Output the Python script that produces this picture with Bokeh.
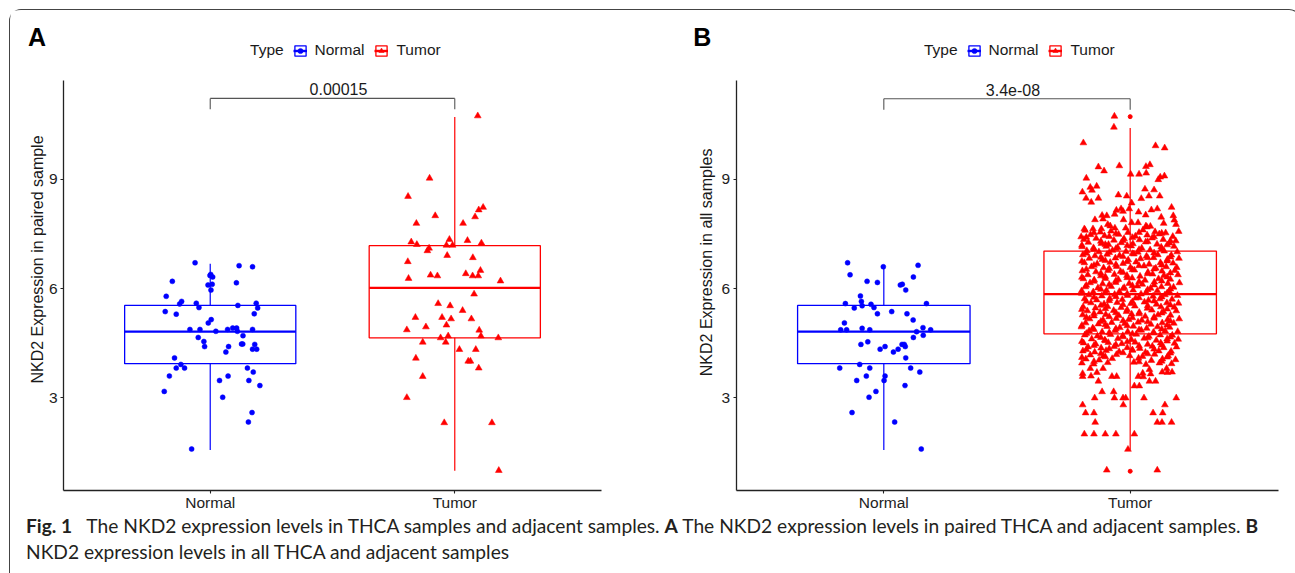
import math
from bokeh.plotting import figure
from bokeh.models import Range1d, FixedTicker, Label, Legend, LegendItem, Div, LinearAxis, Grid
from bokeh.layouts import row, column
from bokeh.embed import file_html
from bokeh.resources import INLINE

# ---------------- data ----------------
categories = ["Normal", "Tumor"]
p_values = ["0.00015", "3.4e-08"]
y_titles = ["NKD2 Expression in paired sample", "NKD2 Expression in all samples"]
panel_letters = ["A", "B"]
y_ticks = [3, 6, 9]

# box statistics per category: lower whisker, Q1, median, Q3, upper whisker
a_low = [1.57, 1.00]
a_q1 = [3.94, 4.65]
a_median = [4.82, 6.02]
a_q3 = [5.54, 7.18]
a_high = [6.68, 10.71]
a_outliers = [[], []]

b_low = [1.57, 1.58]
b_q1 = [3.94, 4.76]
b_median = [4.82, 5.85]
b_q3 = [5.54, 7.03]
b_high = [6.60, 10.41]
b_outliers = [[], [10.72, 0.99]]

# jittered samples: (jitter, expression)
a_normal = [(-0.062,6.71),(0.118,6.63),(0.173,6.60),(0.002,6.39),(0.010,6.32),(-0.001,6.36),(-0.155,6.20),
            (0.107,6.16),(-0.009,6.10),(0.008,6.12),(0.003,5.96),(-0.180,5.79),(-0.117,5.65),(-0.125,5.58),
            (-0.057,5.60),(-0.046,5.48),(0.113,5.54),(0.188,5.60),(0.194,5.47),(-0.184,5.37),(-0.139,5.30),
            (0.180,5.31),(0.004,5.15),(-0.008,5.06),(-0.083,4.88),(-0.042,4.88),(0.023,4.83),(0.071,4.88),
            (0.092,4.92),(0.108,4.92),(0.111,4.83),(0.173,4.88),(0.134,4.71),(-0.049,4.66),(-0.026,4.55),
            (-0.023,4.41),(0.075,4.41),(0.064,4.26),(0.128,4.48),(0.133,4.48),(0.182,4.47),(0.173,4.34),
            (0.190,4.34),(-0.146,4.10),(-0.120,3.92),(-0.139,3.82),(-0.105,3.82),(0.152,3.82),(0.176,3.71),
            (-0.167,3.60),(0.073,3.60),(0.038,3.48),(0.158,3.48),(0.203,3.34),(-0.188,3.18),(0.051,3.02),
            (0.171,2.60),(0.156,2.34),(-0.076,1.60)]

a_tumor = [(0.094,10.74),(-0.103,9.03),(-0.191,8.53),(0.116,8.23),(0.098,8.16),(-0.080,8.00),(0.083,7.97),
           (-0.157,7.79),(0.034,7.79),(-0.178,7.28),(-0.155,7.21),(-0.022,7.35),(-0.034,7.19),(-0.009,7.19),
           (0.052,7.32),(0.109,7.25),(-0.105,7.11),(-0.112,7.04),(-0.031,6.91),(-0.192,6.74),(0.074,6.85),
           (-0.189,6.28),(-0.099,6.37),(-0.071,6.35),(0.045,6.41),(0.073,6.35),(0.096,6.35),(0.105,6.50),
           (0.187,6.21),(0.079,5.85),(-0.068,5.59),(-0.019,5.53),(0.032,5.40),(-0.161,5.21),(-0.052,5.21),
           (-0.015,5.17),(0.068,5.17),(-0.118,4.95),(-0.196,4.87),(-0.034,5.00),(0.100,4.86),(-0.058,4.65),
           (-0.027,4.70),(0.107,4.70),(0.178,4.65),(-0.131,4.53),(-0.037,4.53),(0.019,4.33),(0.086,4.33),
           (-0.159,4.09),(0.055,4.01),(0.064,4.01),(0.098,3.82),(-0.131,3.59),(-0.196,3.01),(-0.043,2.32),
           (0.152,2.32),(0.180,1.01)]

b_normal = [(-0.147,6.71),(-0.002,6.60),(0.139,6.64),(-0.137,6.38),(0.120,6.32),(-0.068,6.20),(-0.026,6.17),
            (0.067,6.10),(0.075,6.12),(0.089,5.96),(-0.095,5.80),(-0.091,5.65),(-0.156,5.59),(-0.088,5.53),
            (-0.052,5.57),(-0.040,5.48),(0.173,5.59),(-0.120,5.47),(-0.026,5.31),(0.032,5.37),(0.094,5.31),
            (0.119,5.14),(-0.160,5.06),(-0.175,4.87),(-0.151,4.87),(-0.088,4.91),(-0.057,4.87),(0.133,4.82),
            (0.159,4.93),(0.160,4.72),(0.190,4.87),(0.120,4.66),(-0.093,4.47),(-0.065,4.54),(-0.015,4.34),
            (0.005,4.41),(0.039,4.26),(0.058,4.34),(0.074,4.47),(0.083,4.47),(0.087,4.41),(0.089,4.10),
            (-0.179,3.82),(-0.098,3.92),(-0.057,3.82),(0.109,3.82),(0.146,3.71),(-0.071,3.60),(0.005,3.60),
            (-0.110,3.48),(0.001,3.48),(0.086,3.34),(-0.032,3.18),(-0.060,3.02),(-0.129,2.60),(0.044,2.34),
            (0.152,1.60)]

b_tumor_high = [(-0.064,10.73),(-0.066,10.43),(-0.190,10.00),(0.103,9.92),(0.140,9.86),(-0.129,9.34),(-0.106,9.23),
                (-0.044,9.37),(0.064,9.35),(0.080,9.40),(0.002,9.14),(0.036,9.14),(0.065,9.17),(0.114,8.99),
                (0.122,9.06),(0.139,9.09),(-0.178,9.03),(-0.162,8.78),(-0.136,8.81),(-0.194,8.65),(-0.155,8.70),
                (0.060,8.73),(0.097,8.71),(-0.179,8.48),(-0.129,8.48),(-0.048,8.57),(-0.014,8.54),(0.045,8.47),
                (0.076,8.54),(0.120,8.54),(-0.158,8.37),(0.006,8.35),(0.168,8.23),(-0.056,8.15),(-0.037,8.19),
                (-0.029,8.12),(-0.004,8.19),(0.034,8.10),(0.086,8.16),(0.110,8.19),(-0.114,8.01),(-0.095,8.00),
                (-0.063,8.04),(0.063,8.02),(0.126,7.96),(0.175,8.00),(-0.143,7.89),(-0.110,7.91),(-0.027,7.89),
                (0.006,7.81),(-0.091,7.76),(-0.081,7.72),(0.032,7.81),(0.064,7.72),(0.136,7.79),(0.179,7.88),
                (0.186,7.76),(-0.186,7.64),(-0.151,7.64),(-0.117,7.64),(-0.062,7.66),(-0.018,7.66),(0.068,7.69),
                (0.082,7.71)]

b_tumor_mid = [(-0.183,7.60),(-0.121,7.55),(-0.078,7.58),(-0.009,7.54),(0.052,7.61),(0.101,7.56),(0.144,7.53),(0.197,7.57),
               (-0.161,7.48),(-0.104,7.45),(-0.047,7.49),(0.021,7.44),(0.069,7.47),(0.118,7.50),(0.173,7.43),(-0.199,7.42),
               (-0.188,7.35),(-0.138,7.38),(-0.066,7.33),(-0.025,7.37),(0.038,7.34),(0.089,7.39),(0.134,7.35),(0.185,7.31),
               (-0.170,7.27),(-0.117,7.24),(-0.088,7.21),(-0.036,7.26),(0.011,7.23),(0.063,7.28),(0.109,7.22),(0.160,7.25),
               (-0.195,7.15),(-0.149,7.12),(-0.097,7.16),(-0.051,7.13),(0.004,7.17),(0.047,7.11),(0.126,7.14),(0.178,7.16),
               (-0.176,7.04),(-0.127,7.01),(-0.072,7.05),(-0.017,7.02),(0.031,7.00),(0.081,7.06),(0.138,7.03),(0.191,7.01),
               (-0.192,6.93),(-0.143,6.90),(-0.094,6.94),(-0.043,6.91),(0.015,6.95),(0.066,6.89),(0.112,6.93),(0.167,6.92),
               (-0.166,6.83),(-0.113,6.80),(-0.060,6.84),(-0.008,6.79),(0.042,6.82),(0.095,6.85),(0.151,6.80),(0.198,6.83),
               (-0.186,6.71),(-0.134,6.68),(-0.081,6.72),(-0.029,6.69),(0.024,6.73),(0.077,6.67),(0.123,6.71),(0.174,6.70),
               (-0.157,6.60),(-0.108,6.57),(-0.055,6.61),(0.001,6.58),(0.056,6.62),(0.104,6.56),(0.146,6.60),(0.189,6.58),
               (-0.194,6.49),(-0.139,6.46),(-0.090,6.50),(-0.039,6.47),(0.017,6.51),(0.072,6.45),(0.129,6.48),(0.181,6.50),
               (-0.172,6.38),(-0.119,6.35),(-0.064,6.39),(-0.013,6.36),(0.040,6.34),(0.091,6.40),(0.137,6.36),(0.194,6.38),
               (-0.190,6.27),(-0.146,6.24),(-0.101,6.28),(-0.048,6.25),(0.008,6.29),(0.060,6.23),(0.115,6.27),(0.163,6.26),
               (-0.163,6.16),(-0.112,6.13),(-0.059,6.17),(-0.004,6.14),(0.049,6.12),(0.098,6.18),(0.153,6.14),(0.200,6.16),
               (-0.182,6.05),(-0.131,6.02),(-0.077,6.06),(-0.024,6.03),(0.029,6.07),(0.083,6.01),(0.127,6.05),(0.176,6.04),
               (-0.197,5.94),(-0.150,5.91),(-0.096,5.95),(-0.044,5.92),(0.012,5.96),(0.065,5.90),(0.110,5.94),(0.158,5.93),
               (-0.168,5.83),(-0.115,5.80),(-0.063,5.84),(-0.011,5.81),(0.044,5.85),(0.093,5.79),(0.141,5.83),(0.192,5.81),
               (-0.185,5.72),(-0.136,5.69),(-0.083,5.73),(-0.032,5.70),(0.022,5.74),(0.074,5.68),(0.121,5.72),(0.170,5.71),
               (-0.159,5.61),(-0.106,5.58),(-0.053,5.62),(0.003,5.59),(0.058,5.63),(0.107,5.57),(0.149,5.61),(0.196,5.60),
               (-0.191,5.50),(-0.141,5.47),(-0.092,5.51),(-0.037,5.48),(0.019,5.52),(0.070,5.46),(0.125,5.50),(0.179,5.49),
               (-0.174,5.39),(-0.122,5.36),(-0.067,5.40),(-0.015,5.37),(0.037,5.35),(0.088,5.41),(0.135,5.37),(0.187,5.39),
               (-0.193,5.28),(-0.147,5.25),(-0.099,5.29),(-0.046,5.26),(0.006,5.30),(0.061,5.24),(0.113,5.28),(0.164,5.27),
               (-0.165,5.17),(-0.110,5.14),(-0.057,5.18),(-0.006,5.15),(0.047,5.13),(0.097,5.19),(0.152,5.15),(0.199,5.17),
               (-0.181,5.06),(-0.129,5.03),(-0.075,5.07),(-0.022,5.04),(0.032,5.08),(0.084,5.02),(0.130,5.06),(0.177,5.05),
               (-0.198,4.95),(-0.152,4.92),(-0.094,4.96),(-0.042,4.93),(0.013,4.97),(0.067,4.91),(0.111,4.95),(0.160,4.94),
               (-0.167,4.84),(-0.114,4.81),(-0.061,4.85),(-0.010,4.82),(0.045,4.86),(0.094,4.80),(0.142,4.84),(0.193,4.82),
               (-0.184,4.73),(-0.133,4.70),(-0.080,4.74),(-0.030,4.71),(0.025,4.75),(0.076,4.69),(0.122,4.73),(0.171,4.72),
               (-0.156,4.62),(-0.103,4.59),(-0.050,4.63),(0.005,4.60),(0.057,4.64),(0.106,4.58),(0.150,4.62),(0.195,4.61),
               (-0.189,4.51),(-0.140,4.48),(-0.089,4.52),(-0.034,4.49),(0.020,4.53),(0.071,4.47),(0.124,4.51),(0.180,4.50),
               (-0.171,4.40),(-0.118,4.37),(-0.065,4.41),(-0.012,4.38),(0.039,4.36),(0.090,4.42),(0.136,4.38),(0.188,4.40),
               (-0.192,4.29),(-0.144,4.26),(-0.098,4.30),(-0.045,4.27),(0.009,4.31),(0.062,4.25),(0.116,4.29),(0.166,4.28),
               (-0.162,4.18),(-0.109,4.15),(-0.056,4.19),(-0.002,4.16),(0.050,4.14),(0.099,4.20),(0.154,4.16),
               (-0.180,4.07),(-0.126,4.04),(-0.073,4.08),(0.034,4.09),(0.086,4.03),(0.131,4.07),(0.184,4.05),
               (-0.196,3.96),(-0.148,3.93),(-0.091,3.97),(0.015,3.98),(0.064,3.92),(0.119,3.96),(0.168,3.94)]

b_tumor_mid2 = [(-0.147,7.53),(-0.058,7.51),(0.036,7.54),(0.128,7.52),(-0.178,7.41),(-0.085,7.43),(0.009,7.40),(0.097,7.42),
                (-0.119,7.30),(-0.029,7.32),(0.071,7.29),(0.163,7.31),(-0.196,7.19),(-0.101,7.21),(-0.012,7.18),(0.150,7.20),
                (-0.147,7.08),(-0.058,7.10),(0.036,7.07),(0.128,7.09),(-0.178,6.97),(-0.085,6.99),(0.009,6.96),(0.097,6.98),
                (-0.119,6.86),(-0.029,6.88),(0.071,6.85),(0.163,6.87),(-0.196,6.75),(-0.101,6.77),(-0.012,6.74),(0.150,6.76),
                (-0.147,6.64),(-0.058,6.66),(0.036,6.63),(0.128,6.65),(-0.178,6.53),(-0.085,6.55),(0.009,6.52),(0.097,6.54),
                (-0.119,6.42),(-0.029,6.44),(0.071,6.41),(0.163,6.43),(-0.196,6.31),(-0.101,6.33),(-0.012,6.30),(0.150,6.32),
                (-0.147,6.20),(-0.058,6.22),(0.036,6.19),(0.128,6.21),(-0.178,6.09),(-0.085,6.11),(0.009,6.08),(0.097,6.10),
                (-0.119,5.98),(-0.029,6.00),(0.071,5.97),(0.163,5.99),(-0.196,5.87),(-0.101,5.89),(-0.012,5.86),(0.150,5.88),
                (-0.147,5.76),(-0.058,5.78),(0.036,5.75),(0.128,5.77),(-0.178,5.65),(-0.085,5.67),(0.009,5.64),(0.097,5.66),
                (-0.119,5.54),(-0.029,5.56),(0.071,5.53),(0.163,5.55),(-0.196,5.43),(-0.101,5.45),(-0.012,5.42),(0.150,5.44),
                (-0.147,5.32),(-0.058,5.34),(0.036,5.31),(0.128,5.33),(-0.178,5.21),(-0.085,5.23),(0.009,5.20),(0.097,5.22),
                (-0.119,5.10),(-0.029,5.12),(0.071,5.09),(0.163,5.11),(-0.196,4.99),(-0.101,5.01),(-0.012,4.98),(0.150,5.00),
                (-0.147,4.88),(-0.058,4.90),(0.036,4.87),(0.128,4.89),(-0.178,4.77),(-0.085,4.79),(0.009,4.76),(0.097,4.78),
                (-0.119,4.66),(-0.029,4.68),(0.071,4.65),(0.163,4.67),(-0.196,4.55),(-0.101,4.57),(-0.012,4.54),(0.150,4.56),
                (-0.147,4.44),(-0.058,4.46),(0.036,4.43),(0.128,4.45),(-0.178,4.33),(-0.085,4.35),(0.009,4.32),(0.097,4.34),
                (-0.119,4.22),(-0.029,4.24),(0.071,4.21),(0.163,4.23),(-0.196,4.11),(-0.101,4.13),(0.150,4.12),
                (-0.147,4.00),(0.036,3.99),(0.128,4.01)]

b_tumor_low = [(-0.193,3.67),(-0.159,3.60),(-0.135,3.70),(-0.110,3.81),(-0.162,3.81),(-0.074,3.59),(-0.055,3.59),
               (-0.129,3.46),(0.033,3.59),(0.051,3.68),(0.053,3.58),(0.078,3.78),(0.083,3.66),(0.078,3.46),
               (0.103,3.46),(0.017,3.33),(0.037,3.33),(0.130,3.71),(0.148,3.81),(0.170,3.71),(0.151,3.70),
               (-0.193,3.59),(-0.114,3.17),(-0.067,3.17),(-0.144,3.00),(-0.064,3.00),(-0.029,3.00),(-0.018,3.00),
               (0.056,3.00),(0.187,3.00),(-0.193,2.81),(-0.028,2.81),(0.141,2.81),(-0.181,2.59),(-0.147,2.59),
               (0.093,2.59),(0.132,2.59),(-0.142,2.33),(0.110,2.33),(0.129,2.33),(0.168,2.33),(-0.186,2.01),
               (-0.147,2.01),(-0.101,2.01),(-0.058,2.01),(0.017,2.01),(-0.095,1.02),(0.110,1.02),(-0.009,1.59)]

b_tumor = b_tumor_high + b_tumor_mid + b_tumor_mid2 + b_tumor_low

# ---------------- styling / layout ----------------
COLORS = ["#0000FF", "#FF0000"]
MARKERS = ["circle", "triangle"]
SIZES = [5.0, 6.8]
BOX_W = 0.70
FONT = "Liberation Sans"
TXT = "#1a1a1a"
FIG_W, FIG_H = 640, 502
X_LO, X_HI = 0.4, 2.6          # discrete axis extent (ggplot expansion)
Y_LO, Y_HI = 0.475, 11.725     # panel y extent
PX_PER_Y = 410 / (Y_HI - Y_LO)
TOP_PAD = 69.5                 # figure top -> panel top (px)
BOT_PAD = 22.5                 # panel bottom -> figure bottom (px)


def make_panel(idx, pts, low, q1, med, q3, high, outliers, left_pad, frame_w):
    px_per_x = frame_w / (X_HI - X_LO)
    right_pad = FIG_W - left_pad - frame_w
    x_range = Range1d(X_LO - left_pad / px_per_x, X_HI + right_pad / px_per_x)
    y_range = Range1d(Y_LO - BOT_PAD / PX_PER_Y, Y_HI + TOP_PAD / PX_PER_Y)
    p = figure(width=FIG_W, height=FIG_H, x_range=x_range, y_range=y_range,
               output_backend="svg", toolbar_location=None,
               x_axis_location=None, y_axis_location=None,
               min_border_left=0, min_border_right=0, min_border_top=0, min_border_bottom=0)
    p.center = [r for r in p.center if not isinstance(r, Grid)]
    p.outline_line_color = None
    p.background_fill_color = "white"
    p.border_fill_color = "white"

    legend_renderers = []
    for i, cat in enumerate(categories):
        xc = i + 1
        col = COLORS[i]
        p.segment(x0=[xc, xc], y0=[q3[i], q1[i]], x1=[xc, xc], y1=[high[i], low[i]],
                  line_color=col, line_width=1.2)
        br = p.quad(left=[xc - BOX_W / 2], right=[xc + BOX_W / 2], bottom=[q1[i]], top=[q3[i]],
                    fill_color="white", fill_alpha=0.0, line_color=col, line_width=1.3)
        mr = p.segment(x0=[xc - BOX_W / 2], y0=[med[i]], x1=[xc + BOX_W / 2], y1=[med[i]],
                       line_color=col, line_width=2.4)
        if outliers[i]:
            p.scatter(x=[xc] * len(outliers[i]), y=outliers[i], marker="circle", size=4, color=col)
        xs = [xc + j for j, v in pts[i]]
        ys = [v for j, v in pts[i]]
        pr = p.scatter(x=xs, y=ys, marker=MARKERS[i], size=SIZES[i], fill_color=col,
                       line_color=col, line_width=0.5)
        legend_renderers.append([br, mr, pr])

    # comparison bracket
    ymax = max(v for grp in pts for j, v in grp)
    yb, yt = ymax + 0.18, ymax + 0.48
    p.segment(x0=[1, 1, 2], y0=[yb, yt, yt], x1=[1, 2, 2], y1=[yt, yt, yb],
              line_color="#555555", line_width=1.1)
    p.add_layout(Label(x=1.5, y=yt, text=p_values[idx], text_align="center", text_baseline="middle",
                       y_offset=9, x_offset=6, text_font=FONT, text_font_size="16px", text_color=TXT))

    # axes drawn at the panel edges
    xaxis = LinearAxis(fixed_location=Y_LO, bounds=(X_LO, X_HI), ticker=FixedTicker(ticks=[1, 2]),
                       major_label_overrides={i + 1: c for i, c in enumerate(categories)})
    yaxis = LinearAxis(fixed_location=X_LO, bounds=(Y_LO, Y_HI), ticker=FixedTicker(ticks=y_ticks))
    for ax in (xaxis, yaxis):
        ax.axis_line_color = "#222222"
        ax.axis_line_width = 1.3
        ax.major_tick_line_color = "#222222"
        ax.major_tick_line_width = 1.1
        ax.major_tick_out = 3
        ax.major_tick_in = 0
        ax.minor_tick_line_color = None
        ax.major_label_text_font = FONT
        ax.major_label_text_font_size = "15.5px"
        ax.major_label_text_color = "#222222"
    xaxis.major_label_standoff = 1
    yaxis.major_label_standoff = 3
    p.add_layout(xaxis, "below")
    p.add_layout(yaxis, "left")

    # legend (inside the canvas, above the panel)
    legend = Legend(items=[LegendItem(label=c, renderers=legend_renderers[i])
                           for i, c in enumerate(categories)],
                    orientation="horizontal", padding=0, margin=0,
                    spacing=10, label_standoff=8, glyph_width=14, glyph_height=13, label_height=18,
                    border_line_color=None, background_fill_alpha=0,
                    label_text_font=FONT, label_text_font_size="15.5px", label_text_color=TXT)
    p.add_layout(legend)
    return p, legend


def decorate(p, legend, idx, legend_left, type_x, letter_x, ylab_x, ylab_y):
    legend.location = (legend_left, FIG_H - 49)
    p.add_layout(Label(x=type_x, y=12.55, text="Type", text_align="left", text_baseline="middle",
                       text_font=FONT, text_font_size="15.5px", text_color=TXT))
    p.add_layout(Label(x=letter_x, y=12.90, text=panel_letters[idx], text_align="left",
                       text_baseline="middle", text_font=FONT, text_font_style="bold",
                       text_font_size="25px", text_color="#000000"))
    p.add_layout(Label(x=ylab_x, y=ylab_y, text=y_titles[idx], angle=math.pi / 2, text_align="center",
                       text_baseline="middle", text_font=FONT, text_font_size="16px", text_color=TXT))


pA, legA = make_panel(0, [a_normal, a_tumor], a_low, a_q1, a_median, a_q3, a_high, a_outliers,
                      left_pad=53, frame_w=538)
decorate(pA, legA, 0, 282.5, 1.163, 0.255, 0.294, 6.80)

pB, legB = make_panel(1, [b_normal, b_tumor], b_low, b_q1, b_median, b_q3, b_high, b_outliers,
                      left_pad=85.5, frame_w=542)
decorate(pB, legB, 1, 316.5, 1.163, 0.226, 0.282, 6.72)

caption_html = (
    '<div style="font-family: Lato, sans-serif; font-size: 19.2px; line-height: 26px; color: #231f20; '
    'white-space: nowrap; margin-left: 11px; margin-top: -4px;">'
    '<b>Fig. 1</b>&nbsp;&nbsp; The NKD2 expression levels in THCA samples and adjacent samples. '
    '<b>A</b> The NKD2 expression levels in paired THCA and adjacent samples. <b>B</b><br>'
    'NKD2 expression levels in all THCA and adjacent samples</div>'
)
cap = Div(text=caption_html, width=1280, height=58)

layout = column(row(pA, pB), cap,
                styles={"margin-left": "9px", "margin-top": "9px",
                        "border": "1.5px solid #444444", "border-bottom": "none",
                        "border-radius": "12px 12px 0 0", "background": "white"})

open("out.html", "w").write(file_html(layout, INLINE))
